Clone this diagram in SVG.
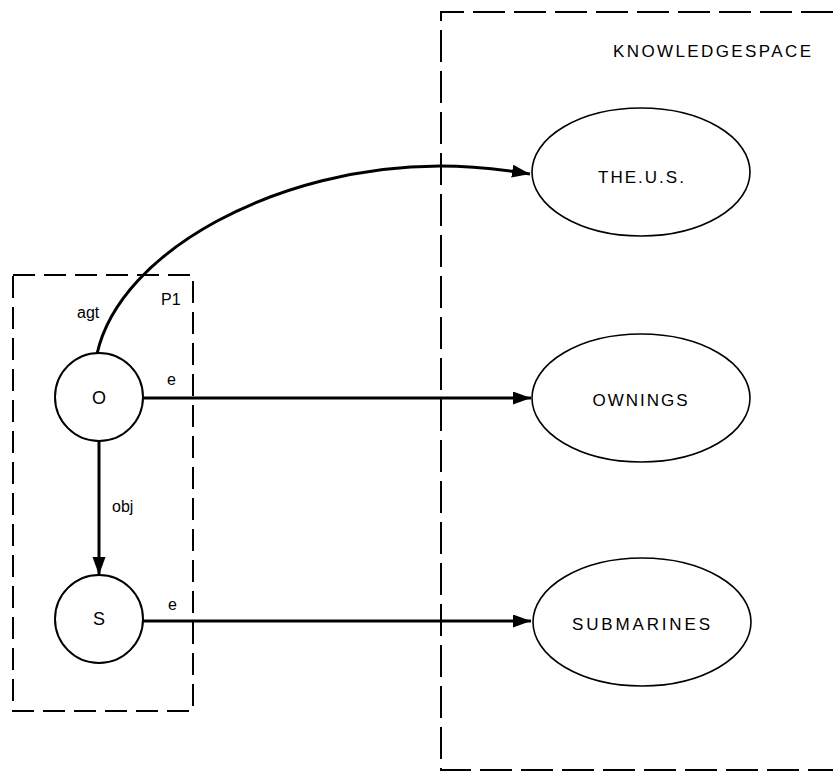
<svg xmlns="http://www.w3.org/2000/svg" width="833" height="778" viewBox="0 0 833 778">
<defs>
<style>
.bg{fill:#fff}
.box{fill:none;stroke:#000;stroke-width:2}
.node{fill:#fff;stroke:#000;stroke-width:2}
.ell{fill:#fff;stroke:#000;stroke-width:1.6}
.edge{fill:none;stroke:#000;stroke-width:3}
.t{font-family:"Liberation Sans",Arial,Helvetica,sans-serif;fill:#000}
.lbl{font-size:16px}
.big{font-size:17px;letter-spacing:2px}
</style>
<marker id="arr" markerUnits="userSpaceOnUse" markerWidth="20" markerHeight="14" refX="18" refY="6.5" orient="auto">
<path d="M0,0 L18,6.5 L0,13 z" fill="#000"/>
</marker>
</defs>
<rect class="bg" x="0" y="0" width="833" height="778"/>
<g id="knowledgespace">
<path class="box" d="M833,12 H441 V770 H833" stroke-dasharray="32,9"/>
<text class="t big" x="713" y="57" text-anchor="middle" textLength="200" lengthAdjust="spacing">KNOWLEDGESPACE</text>
</g>
<g id="p1">
<rect class="box" x="13" y="275" width="180" height="436" stroke-dasharray="22,9"/>
<text class="t lbl" x="161" y="305">P1</text>
</g>
<g id="connectors">
<path class="edge" d="M97,354 C120,250 280,166 440,166 C470,166 505,170 530,174" marker-end="url(#arr)"/>
<line class="edge" x1="143" y1="398" x2="531" y2="398" marker-end="url(#arr)"/>
<line class="edge" x1="99" y1="441" x2="99" y2="575" marker-end="url(#arr)"/>
<line class="edge" x1="143" y1="621" x2="531" y2="621" marker-end="url(#arr)"/>
<text class="t lbl" x="77" y="318">agt</text>
<text class="t lbl" x="167" y="385">e</text>
<text class="t lbl" x="112" y="512">obj</text>
<text class="t lbl" x="168" y="610">e</text>
</g>
<g id="node-O">
<circle class="node" cx="99" cy="397" r="44"/>
<text class="t" x="99" y="404" font-size="18" text-anchor="middle">O</text>
</g>
<g id="node-S">
<circle class="node" cx="99" cy="619" r="44"/>
<text class="t" x="99" y="625" font-size="18" text-anchor="middle">S</text>
</g>
<g id="node-theus">
<ellipse class="ell" cx="641" cy="172" rx="109" ry="64"/>
<text class="t big" x="642" y="183" text-anchor="middle">THE.U.S.</text>
</g>
<g id="node-ownings">
<ellipse class="ell" cx="641" cy="398" rx="109" ry="64"/>
<text class="t big" x="641" y="406" text-anchor="middle">OWNINGS</text>
</g>
<g id="node-submarines">
<ellipse class="ell" cx="642" cy="622" rx="109" ry="64"/>
<text class="t big" x="642" y="630" text-anchor="middle" textLength="140" lengthAdjust="spacing">SUBMARINES</text>
</g>
</svg>
